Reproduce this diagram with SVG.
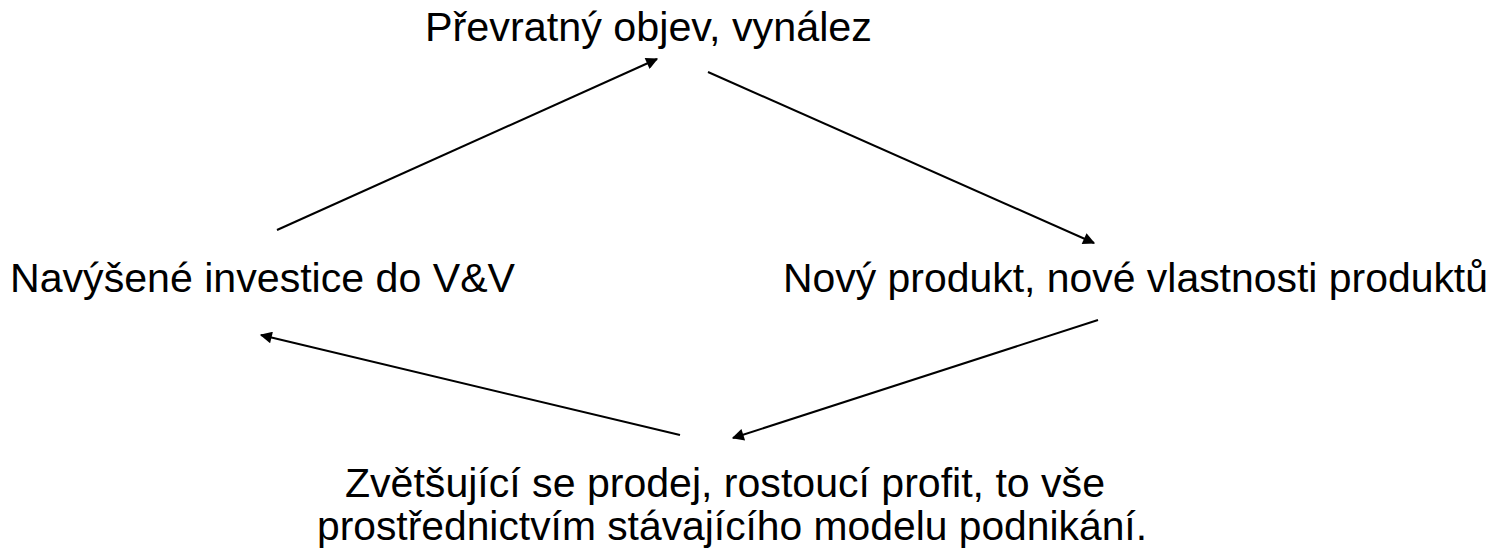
<svg xmlns="http://www.w3.org/2000/svg" width="1502" height="559" viewBox="0 0 1502 559">
<style>
text{font-family:"Liberation Sans",Arial,sans-serif;font-size:41px;fill:#000}
.c line{stroke:#000;stroke-width:2;marker-end:url(#ah)}
</style>
<defs>
<marker id="ah" viewBox="0 0 10 10" refX="9" refY="5" markerWidth="15" markerHeight="12" markerUnits="userSpaceOnUse" orient="auto"><path d="M0,0 L10,5 L0,10 Z" fill="#000"/></marker>
</defs>
<rect width="1502" height="559" fill="#fff"/>
<g id="n-top"><text x="425" y="41" textLength="447" lengthAdjust="spacingAndGlyphs">Převratný objev, vynález</text></g>
<g id="n-left"><text x="10" y="292" textLength="505" lengthAdjust="spacingAndGlyphs">Navýšené investice do V&amp;V</text></g>
<g id="n-right"><text x="783" y="292" textLength="705" lengthAdjust="spacingAndGlyphs">Nový produkt, nové vlastnosti produktů</text></g>
<g id="n-bottom"><text x="345" y="497" textLength="760" lengthAdjust="spacingAndGlyphs">Zvětšující se prodej, rostoucí profit, to vše</text><text x="317" y="540" textLength="830" lengthAdjust="spacingAndGlyphs">prostřednictvím stávajícího modelu podnikání.</text></g>
<g class="c" id="connectors">
<line x1="277" y1="230" x2="657" y2="59"/>
<line x1="708" y1="72" x2="1094" y2="243"/>
<line x1="1098" y1="320" x2="733" y2="438"/>
<line x1="680" y1="435" x2="261" y2="335"/>
</g>
</svg>
